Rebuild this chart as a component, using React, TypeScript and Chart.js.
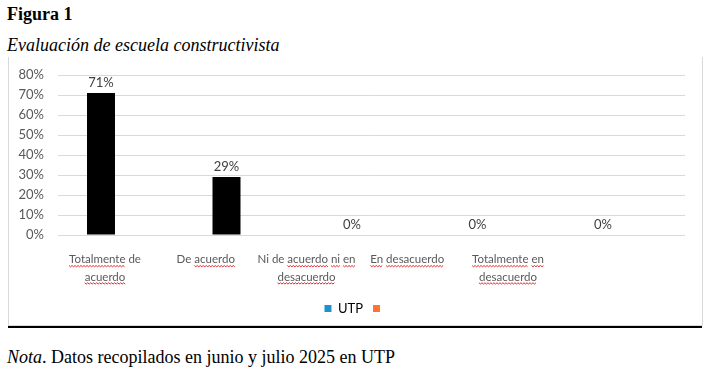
import React, { useEffect, useRef } from 'react';
import { Chart, registerables } from 'chart.js';

Chart.register(...registerables);

const categoryLabels: string[][] = [
  ['Totalmente de', 'acuerdo'],
  ['De acuerdo'],
  ['Ni de acuerdo ni en', 'desacuerdo'],
  ['En desacuerdo'],
  ['Totalmente en', 'desacuerdo'],
];
const utpValues = [71, 29, 0, 0, 0];
const yTickValues = [0, 10, 20, 30, 40, 50, 60, 70, 80];
const legendNames = ['UTP', ''];
// word indices marked by the spell-checker (red wavy underline), per label line
const spellWords: number[][][] = [
  [[0], [0]],
  [[1]],
  [[2, 3, 4], [0]],
  [[0, 1]],
  [[0, 1], [0]],
];

const FONT = 'Lato, "Noto Sans", sans-serif';
const SERIF = '"Liberation Serif", "Times New Roman", serif';
const TEXT = '#595959';
const LEGEND_COLORS = ['#2190d3', '#ff7435'];
const CAT_SIZE = 11.5;
const CAT_LH = 1.5;
const CAT_PAD = 8;

function drawWave(ctx: CanvasRenderingContext2D, x0: number, x1: number, y: number) {
  ctx.beginPath();
  let j = 0;
  for (let x = x0; x <= x1 + 0.01; x += 1.5, j++) {
    const yy = y + (j % 2 === 0 ? 0 : 1.3);
    if (j === 0) ctx.moveTo(x, yy);
    else ctx.lineTo(x, yy);
  }
  ctx.stroke();
}

export default function App() {
  const ref = useRef<HTMLCanvasElement>(null);

  useEffect(() => {
    const valueLabels = {
      id: 'valueLabels',
      afterDatasetsDraw(chart: any) {
        const ctx = chart.ctx as CanvasRenderingContext2D;
        const meta = chart.getDatasetMeta(0);
        ctx.save();
        ctx.font = `13px ${FONT}`;
        ctx.fillStyle = '#404040';
        ctx.textAlign = 'center';
        ctx.textBaseline = 'alphabetic';
        meta.data.forEach((el: any, i: number) => {
          ctx.fillText(utpValues[i] + '%', el.x, el.y - 6);
        });
        ctx.restore();
      },
    };

    const spellMarks = {
      id: 'spellMarks',
      afterDraw(chart: any) {
        const s = chart.scales.x2;
        const ctx = chart.ctx as CanvasRenderingContext2D;
        ctx.save();
        ctx.font = `${CAT_SIZE}px ${FONT}`;
        ctx.strokeStyle = '#e3262b';
        ctx.lineWidth = 1;
        categoryLabels.forEach((lines, i) => {
          const cx = s.getPixelForValue(i);
          lines.forEach((line, k) => {
            const marks = (spellWords[i] && spellWords[i][k]) || [];
            const total = ctx.measureText(line).width;
            const left = cx - total / 2;
            const baseY = s.top + CAT_PAD + 22.5 + k * CAT_SIZE * CAT_LH;
            const words = line.split(' ');
            let pos = 0;
            words.forEach((w, wi) => {
              const start = ctx.measureText(line.slice(0, pos)).width;
              const ww = ctx.measureText(w).width;
              if (marks.includes(wi)) drawWave(ctx, left + start, left + start + ww, baseY);
              pos += w.length + 1;
            });
          });
        });
        ctx.restore();
      },
    };

    const chart = new Chart(ref.current as HTMLCanvasElement, {
      type: 'bar',
      data: {
        datasets: [
          {
            label: legendNames[0],
            data: utpValues.map((v, i) => ({ x: i, y: v })) as any,
            backgroundColor: '#000000',
            borderWidth: 0,
            inflateAmount: 0,
            barThickness: 28,
            xAxisID: 'x',
            yAxisID: 'y',
          } as any,
        ],
      },
      options: {
        animation: false,
        responsive: true,
        maintainAspectRatio: false,
        events: [],
        layout: { padding: { left: 0, right: 0, top: 17, bottom: 0 } },
        scales: {
          x: {
            type: 'linear',
            display: false,
            offset: false,
            grid: { offset: false },
            min: -0.3426,
            max: 4.6534,
          },
          x2: {
            type: 'linear',
            position: 'bottom',
            offset: false,
            min: -0.4665,
            max: 5.7568,
            grid: { display: false, offset: false },
            border: { display: false },
            afterBuildTicks: (s: any) => {
              s.ticks = categoryLabels.map((_, i) => ({ value: i }));
            },
            afterFit: (s: any) => {
              s.height = 57;
            },
            ticks: {
              autoSkip: false,
              maxRotation: 0,
              minRotation: 0,
              padding: CAT_PAD,
              color: TEXT,
              font: { family: FONT, size: CAT_SIZE, lineHeight: CAT_LH },
              callback: (v: any) => categoryLabels[v] ?? '',
            },
          },
          y: {
            min: 0,
            max: 80,
            afterBuildTicks: (s: any) => {
              s.ticks = yTickValues.map((v) => ({ value: v }));
            },
            afterFit: (s: any) => {
              s.width = 49;
              s.paddingTop = 8;
              s.paddingBottom = 8;
            },
            grid: { color: '#d9d9d9', drawTicks: false },
            border: { display: false },
            ticks: {
              padding: 14,
              color: TEXT,
              font: { family: FONT, size: 13 },
              callback: (v: any) => v + '%',
            },
          },
          y2: {
            position: 'right',
            min: 0,
            max: 80,
            grid: { display: false, drawTicks: false },
            border: { display: false },
            ticks: { display: false },
            afterFit: (s: any) => {
              s.width = 17;
              s.paddingTop = 0;
              s.paddingBottom = 0;
            },
          },
        } as any,
        plugins: {
          legend: {
            position: 'bottom',
            labels: {
              boxWidth: 7,
              boxHeight: 7,
              padding: 10,
              color: TEXT,
              font: { family: FONT, size: 13 },
              generateLabels: () =>
                legendNames.map((n, i) => ({
                  text: n,
                  fillStyle: LEGEND_COLORS[i],
                  strokeStyle: LEGEND_COLORS[i],
                  lineWidth: 0,
                  hidden: false,
                  datasetIndex: 0,
                })) as any,
            },
          },
          tooltip: { enabled: false },
        },
      },
      plugins: [valueLabels, spellMarks],
    });
    return () => chart.destroy();
  }, []);

  return (
    <div style={{ position: 'absolute', left: 0, top: 0, width: 708, height: 368, background: '#fff', fontFamily: SERIF, color: '#000' }}>
      <div style={{ position: 'absolute', left: 7, top: 3.5, fontSize: 18, lineHeight: '20px', fontWeight: 'bold', whiteSpace: 'nowrap' }}>Figura 1</div>
      <div style={{ position: 'absolute', left: 7, top: 35, fontSize: 18, lineHeight: '20px', fontStyle: 'italic', whiteSpace: 'nowrap' }}>Evaluación de escuela constructivista</div>
      <div style={{ position: 'absolute', left: 8, top: 57, width: 695, height: 269, boxSizing: 'border-box', borderLeft: '1px solid #d9d9d9', borderRight: '1px solid #d9d9d9', borderBottom: '1px solid #d9d9d9' }} />
      <div style={{ position: 'absolute', left: 9, top: 58, width: 693, height: 267 }}>
        <canvas ref={ref} />
      </div>
      <div style={{ position: 'absolute', left: 8, top: 326, width: 694, height: 2, background: '#000' }} />
      <div style={{ position: 'absolute', left: 7, top: 347, fontSize: 18, lineHeight: '20px', whiteSpace: 'nowrap' }}>
        <i>Nota</i>. Datos recopilados en junio y julio 2025 en UTP
      </div>
    </div>
  );
}
